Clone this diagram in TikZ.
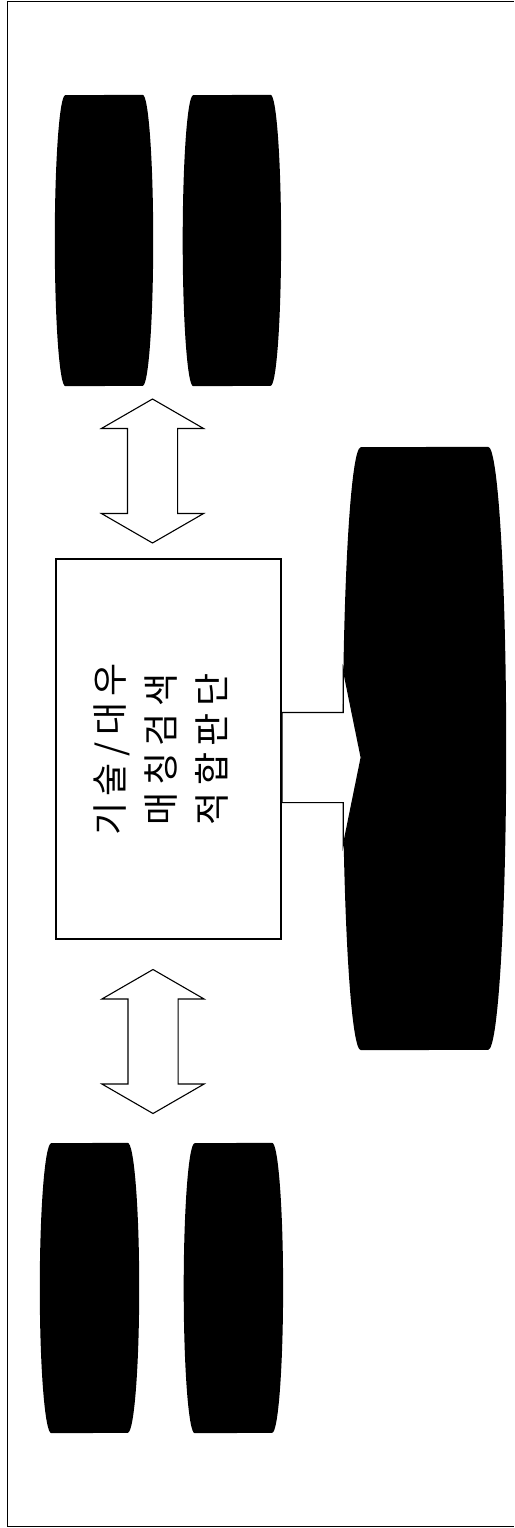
\documentclass[tikz,border=0pt]{standalone}
\usepackage{fontspec}
\newfontfamily\kr[LetterSpace=18]{Noto Sans CJK KR}
\usetikzlibrary{positioning}
\usetikzlibrary{shapes.arrows}
\tikzset{main node/.style={shape=rectangle,
    draw, line width=1.2pt, fill=white,
    minimum width=225pt, minimum height=380pt}}
\tikzset{db node/.style={shape=rectangle, inner sep=0pt}}
\tikzset{link arrow/.style={shape=double arrow, draw, line width=1.1pt,
    fill=white, inner xsep=0pt, inner ysep=24.5pt, minimum height=144pt,
    double arrow head extend=26pt, double arrow tip angle=120, rotate=90}}

\begin{document}
\begin{tikzpicture}[x=1pt,y=-1pt]
    \useasboundingbox (0,0) rectangle (514,1528);
    \draw[line width=1.5pt] (514,1.5) -- (7.5,1.5) -- (7.5,1526.5) -- (514,1526.5);

    \node[main node] (1) at (168.5,749) {};
    \node[rotate=90, align=center, inner sep=0pt,
        font=\kr\fontsize{36pt}{51pt}\selectfont] (t) at (161,749.5)
        {기술/대우\\매칭검색\\적합판단};

    \node[db node, minimum width=77pt, minimum height=291pt] (2) at (104,240.5) {};
    \node[db node, minimum width=77pt, minimum height=291pt] (3) [right = 50.5pt of 2] {};
    \node[db node, minimum width=76pt, minimum height=290pt] (4) at (89.5,1288) {};
    \node[db node, minimum width=77pt, minimum height=290pt] (5) [right = 67pt of 4] {};
    \node[db node, minimum width=127pt, minimum height=603pt] (6) at (424.5,748.5) {};

    % drum ends
    \foreach \n/\rx/\ry in {2/10.5/145.5, 3/10.5/145.5, 4/11.5/145, 5/11/145, 6/18/301.5}
        \fill (\n.north east) arc[start angle=90, end angle=-90, x radius=\rx pt, y radius=\ry pt]
            -- (\n.south west) arc[start angle=270, end angle=90, x radius=\rx pt, y radius=\ry pt]
            -- cycle;

    \node[link arrow] (7) at (152.5,471) {};
    \node[link arrow] (8) at (153,1041.5) {};
    \node[shape=single arrow, draw, line width=1.1pt, fill=white,
        inner xsep=0pt, inner ysep=44.5pt, minimum height=79pt,
        single arrow head extend=43pt, single arrow tip angle=157,
        anchor=tail] (9) at ([yshift=-8.5pt]1.east) {};
\end{tikzpicture}
\end{document}
